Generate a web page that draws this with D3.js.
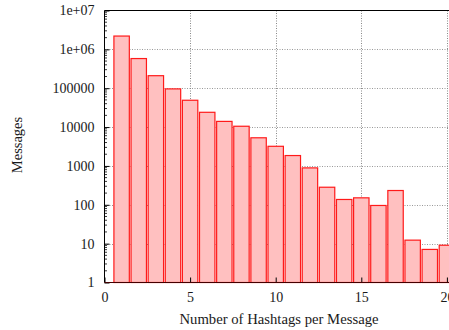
<!DOCTYPE html>
<html><head><meta charset="utf-8">
<script src="https://cdn.jsdelivr.net/npm/d3@7"></script>
<style>body{margin:0;background:#fff}svg{display:block}text{font-family:"Liberation Serif","Times New Roman",serif;fill:#1a1a1a}</style>
</head><body>
<svg id="c" width="449" height="330"></svg>
<script>
const hashtags = [1,2,3,4,5,6,7,8,9,10,11,12,13,14,15,16,17,18,19,20];
const messages = [2200000,580000,210000,96000,49000,24000,14000,10500,5300,3200,1850,890,283,137,151,96,233,12.3,7.1,9.1];
const yTicks = [1,10,100,1000,10000,100000,1000000,10000000];
const yTickLabels = ["1","10","100","1000","10000","100000","1e+06","1e+07"];
const xTicks = [0,5,10,15,20];

const svg = d3.select("#c");
const pLeft = 104.5, pTop = 10.5, pBottom = 282.5;
const unit = 17.12;
const x = d3.scaleLinear().domain([0,21]).range([pLeft, pLeft + 21*unit]);
const y = d3.scaleLog().domain([1,1e7]).range([pBottom, pTop]);

// grid
const g = svg.append("g");
g.selectAll("line.hy").data(yTicks.filter(v=>v>1&&v<1e7)).join("line")
  .attr("x1",pLeft).attr("x2",460).attr("y1",d=>Math.round(y(d))+0.5).attr("y2",d=>Math.round(y(d))+0.5)
  .attr("stroke","#999").attr("stroke-width",1).attr("stroke-dasharray","1,1.5");
g.selectAll("line.vx").data(xTicks.filter(v=>v>0)).join("line")
  .attr("y1",pTop).attr("y2",pBottom).attr("x1",d=>Math.round(x(d))+0.5).attr("x2",d=>Math.round(x(d))+0.5)
  .attr("stroke","#888").attr("stroke-width",1).attr("stroke-dasharray","1,1.5");

// bars
const bw = 0.9;
svg.append("g").selectAll("rect").data(hashtags).join("rect")
  .attr("x", (d)=>x(d-bw/2)).attr("width", x(bw)-x(0))
  .attr("y", (d,i)=>y(messages[i])).attr("height",(d,i)=>pBottom - y(messages[i]))
  .attr("fill","#ffc0c0").attr("stroke","#ff1a1a").attr("stroke-width",1.2);

// axes
const yAxis = d3.axisLeft(y).tickValues(yTicks).tickFormat((d,i)=>yTickLabels[i]).tickSize(-5).tickPadding(10);
const ya = svg.append("g").attr("transform",`translate(${pLeft},0)`).call(yAxis);
ya.select(".domain").remove();
ya.selectAll("text").style("font-size","14px").style("font-family","Liberation Serif");
ya.selectAll(".tick line").attr("stroke","#000");
// minor ticks
const minors = [];
for (let e=0;e<7;e++) for (let m=2;m<=9;m++) minors.push(m*Math.pow(10,e));
svg.append("g").selectAll("line").data(minors).join("line")
  .attr("x1",pLeft).attr("x2",pLeft+2.5).attr("y1",d=>y(d)).attr("y2",d=>y(d))
  .attr("stroke","#000").attr("stroke-width",0.8);

const xAxis = d3.axisBottom(x).tickValues(xTicks).tickFormat(d3.format("d")).tickSize(-5).tickPadding(10);
const xa = svg.append("g").attr("transform",`translate(0,${pBottom})`).call(xAxis);
xa.select(".domain").remove();
xa.selectAll("text").style("font-size","14px").style("font-family","Liberation Serif");
xa.selectAll(".tick line").attr("stroke","#000");

// frame
svg.append("line").attr("x1",pLeft).attr("x2",pLeft).attr("y1",pTop).attr("y2",pBottom).attr("stroke","#000");
svg.append("line").attr("x1",pLeft).attr("x2",460).attr("y1",pTop).attr("y2",pTop).attr("stroke","#000");
svg.append("line").attr("x1",pLeft).attr("x2",460).attr("y1",pBottom).attr("y2",pBottom).attr("stroke","#400");

// titles
svg.append("text").attr("transform","translate(22,145) rotate(-90)").attr("text-anchor","middle")
  .style("font-size","14.5px").text("Messages");
svg.append("text").attr("x",279).attr("y",324).attr("text-anchor","middle")
  .style("font-size","14.7px").text("Number of Hashtags per Message");
</script>
</body></html>
